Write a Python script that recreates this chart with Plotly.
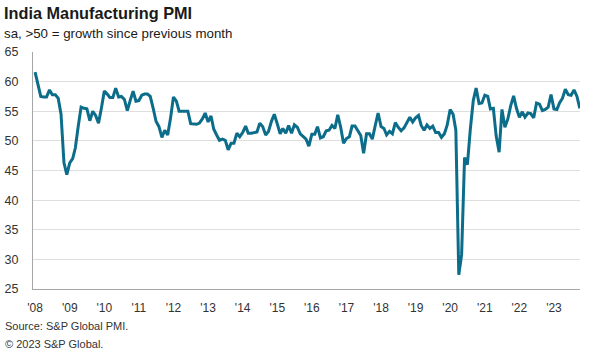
import plotly.graph_objects as go
import pandas as pd

# Monthly India Manufacturing PMI (sa), Jan 2008 - Oct 2023
pmi_2008 = [61.6, 59.6, 57.5, 57.4, 57.4, 58.6, 57.8, 57.8, 57.2, 54.5, 46.3, 44.3]
pmi_2009 = [46.3, 47.0, 48.8, 52.5, 55.7, 55.5, 55.4, 53.4, 55.0, 54.3, 53.0, 55.5]
pmi_2010 = [58.4, 57.9, 57.3, 57.3, 58.9, 57.4, 57.5, 57.0, 55.1, 56.8, 58.4, 56.7]
pmi_2011 = [56.8, 57.7, 57.9, 57.9, 57.5, 55.5, 53.3, 52.4, 50.6, 51.8, 51.0, 53.8]
pmi_2012 = [57.4, 56.7, 55.0, 55.0, 55.0, 55.0, 52.9, 52.8, 52.8, 53.0, 53.7, 54.7]
pmi_2013 = [53.2, 54.2, 52.0, 51.0, 50.1, 50.3, 50.1, 48.5, 49.6, 49.6, 51.3, 50.7]
pmi_2014 = [51.4, 52.5, 51.3, 51.3, 51.4, 51.5, 53.0, 52.4, 51.0, 51.6, 53.3, 54.5]
pmi_2015 = [52.9, 51.2, 52.1, 51.3, 52.6, 51.3, 52.7, 52.3, 51.2, 50.7, 50.3, 49.1]
pmi_2016 = [51.1, 51.1, 52.4, 50.5, 50.7, 51.7, 51.8, 52.6, 52.1, 54.4, 52.3, 49.6]
pmi_2017 = [50.4, 50.7, 52.5, 52.5, 51.6, 50.9, 47.9, 51.2, 51.2, 50.3, 52.6, 54.7]
pmi_2018 = [52.4, 52.1, 51.0, 51.6, 51.2, 53.1, 52.3, 51.7, 52.2, 53.1, 54.0, 53.2]
pmi_2019 = [53.9, 54.3, 52.6, 51.8, 52.7, 52.1, 52.5, 51.4, 51.4, 50.6, 51.2, 52.7]
pmi_2020 = [55.3, 54.5, 51.8, 27.4, 30.8, 47.2, 46.0, 52.0, 56.8, 58.9, 56.3, 56.4]
pmi_2021 = [57.7, 57.5, 55.4, 55.5, 50.8, 48.1, 55.3, 52.3, 53.7, 55.9, 57.6, 55.5]
pmi_2022 = [54.0, 54.9, 54.0, 54.7, 54.6, 53.9, 56.4, 56.2, 55.1, 55.3, 55.7, 57.8]
pmi_2023 = [55.4, 55.3, 56.4, 57.2, 58.7, 57.8, 57.7, 58.6, 57.5, 55.5]

pmi = (pmi_2008 + pmi_2009 + pmi_2010 + pmi_2011 + pmi_2012 + pmi_2013 +
       pmi_2014 + pmi_2015 + pmi_2016 + pmi_2017 + pmi_2018 + pmi_2019 +
       pmi_2020 + pmi_2021 + pmi_2022 + pmi_2023)
months = pd.date_range("2008-01-01", periods=len(pmi), freq="MS")

tick_years = list(range(2008, 2024))
tick_vals = [f"{y}-01-01" for y in tick_years]
tick_text = [f"'{str(y)[2:]}" for y in tick_years]
y_ticks = [25, 30, 35, 40, 45, 50, 55, 60, 65]

FONT = "Liberation Sans, Arial, sans-serif"
LINE = "#0c6d8a"

fig = go.Figure()
fig.add_trace(go.Scatter(
    x=months, y=pmi, mode="lines",
    line=dict(color=LINE, width=3),
    hoverinfo="x+y", showlegend=False,
))

fig.update_layout(
    width=594, height=356,
    margin=dict(l=33, r=14, t=52, b=67, autoexpand=False),
    paper_bgcolor="white", plot_bgcolor="white",
    font=dict(family=FONT, size=12, color="#333333"),
    xaxis=dict(
        type="date", automargin=False,
        range=["2007-12-10", "2023-10-03"],
        tickvals=tick_vals, ticktext=tick_text,
        showgrid=False, zeroline=False,
        showline=True, linecolor="#a6a6a6", linewidth=1,
        ticks="", ticklabelstandoff=8,
        tickfont=dict(size=12, color="#333333"),
    ),
    yaxis=dict(
        range=[25, 65], tickvals=y_ticks, automargin=False,
        showgrid=True, gridcolor="#dedede", gridwidth=1,
        zeroline=False, showline=True, linecolor="#a6a6a6", linewidth=1,
        ticks="", ticklabelstandoff=11,
        tickfont=dict(size=12.5, color="#333333"),
    ),
    annotations=[
        dict(text="<b>India Manufacturing PMI</b>", xref="paper", yref="paper",
             x=-0.056, y=1.165, xanchor="left", yanchor="middle", showarrow=False,
             font=dict(family=FONT, size=16.3, color="#1a1a1a")),
        dict(text="sa, >50 = growth since previous month", xref="paper", yref="paper",
             x=-0.056, y=1.080, xanchor="left", yanchor="middle", showarrow=False,
             font=dict(family=FONT, size=13.3, color="#1a1a1a")),
        dict(text="Source: S&P Global PMI.", xref="paper", yref="paper",
             x=-0.054, y=-0.158, xanchor="left", yanchor="middle", showarrow=False,
             font=dict(family=FONT, size=11, color="#333333")),
        dict(text="© 2023 S&P Global.", xref="paper", yref="paper",
             x=-0.054, y=-0.234, xanchor="left", yanchor="middle", showarrow=False,
             font=dict(family=FONT, size=11, color="#333333")),
    ],
)

fig.write_html("out.html",
               config={"displayModeBar": False},
               post_script="document.body.style.margin='0';document.body.style.overflow='hidden';")
